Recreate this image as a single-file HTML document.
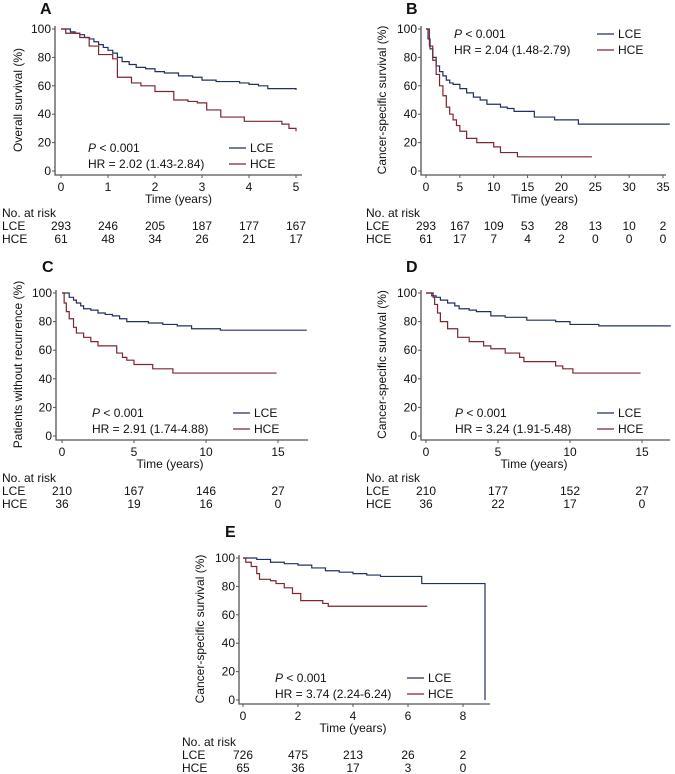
<!DOCTYPE html>
<html><head><meta charset="utf-8"><style>
body{margin:0;background:#fff}
svg{display:block;font-family:"Liberation Sans",Arial,sans-serif}
text{fill:#111}
</style></head><body>
<svg id="fig" width="675" height="774" viewBox="0 0 675 774"></svg>
<script>
// ---- data ----
const aLceT=[0,0.2,0.3,0.4,0.5,0.6,0.7,0.8,0.9,1.0,1.1,1.2,1.3,1.45,1.6,1.8,2,2.2,2.5,2.8,3,3.3,3.5,3.8,4,4.2,4.4,4.6,5];
const aLceS=[100,98,97,96,94,93,91,89,87,85,83,80,77,75,73,72,70,69,67,66,64,63,63,62,61,60,58,58,57];
const aHceT=[0,0.1,0.4,0.6,0.8,1.1,1.2,1.5,1.7,2,2.4,2.7,2.9,3.1,3.4,3.9,4.7,4.85,5];
const aHceS=[100,97,94,88,82,79,66,62,60,56,50,49,48,43,38,35,33,30,28];
const bLceT=[0,0.3,0.6,1,1.5,2,2.5,3,3.5,4,5,6,7,8,9,11,12,13,15,16,19,22.5,36];
const bLceS=[100,93,86,80,74,70,67,64,62,61,58,55,52,50,47,45,44,42,42,38,36,33,33];
const bHceT=[0,0.5,1,1.5,2,2.5,3,3.5,4,4.5,5,6,7.5,10,11,13.5,24.5];
const bHceS=[100,88,78,68,60,53,45,40,36,32,28,23,20,17,13,10,10];
const cLceT=[0,0.5,0.8,1,1.3,1.5,2,2.5,3,3.5,4,4.5,6,7,8,9,11,17];
const cLceS=[100,97,95,93,91,89,88,86,85,84,82,80,79,78,77,75,74,74];
const cHceT=[0,0.15,0.3,0.5,0.8,1,1.5,2,2.5,3.8,4.2,4.5,5,6.3,7.7,14.9];
const cHceS=[100,93,87,82,76,72,69,66,63,58,55,53,50,47,44,44];
const dLceT=[0,0.4,0.7,1,1.5,2,2.3,3,3.5,4.5,5.5,6,7,8,9,10,12,17];
const dLceS=[100,98,97,95,93,91,89,88,87,84,83,83,81,81,80,78,77,77];
const dHceT=[0,0.5,0.6,0.8,1,1.5,2.2,3,4,4.5,5.5,6.5,6.8,9,9.5,10.2,14.9];
const dHceS=[100,97,92,86,80,75,69,66,63,61,58,55,52,49,47,44,44];
const eLceT=[0,0.5,1,1.5,2,2.5,3,3.5,4,4.5,5,6.5,8.8,8.8];
const eLceS=[100,99,97,96,95,93,91,90,89,88,87,82,82,0];
const eHceT=[0,0.1,0.3,0.5,0.6,1,1.2,1.5,1.8,2.1,2.9,3.1,6.7];
const eHceS=[100,97,94,89,85,84,82,79,75,70,68,66,66];
const aTicks=[0,1,2,3,4,5], bTicks=[0,5,10,15,20,25,30,35], cTicks=[0,5,10,15], eTicks=[0,2,4,6,8];
const aRiskL=[293,246,205,187,177,167], aRiskH=[61,48,34,26,21,17];
const bRiskL=[293,167,109,53,28,13,10,2], bRiskH=[61,17,7,4,2,0,0,0];
const cRiskL=[210,167,146,27], cRiskH=[36,19,16,0];
const dRiskL=[210,177,152,27], dRiskH=[36,22,17,0];
const eRiskL=[726,475,213,26,2], eRiskH=[65,36,17,3,0];
const yTicks=[0,20,40,60,80,100];

const NS="http://www.w3.org/2000/svg", svg=document.getElementById('fig');
function mk(tag,at,parent,txt){const e=document.createElementNS(NS,tag);for(const k in at)e.setAttribute(k,at[k]);if(txt!=null)e.textContent=txt;(parent||svg).appendChild(e);return e;}
const LC="#22305e", HC="#7d2530", AX="#555", FS=12;
function panel(p){
  const g=mk('g',{});
  
  
  const sx=t=>p.x0+(t-p.t0)/(p.t1-p.t0)*(p.x1-p.x0);
  const sy=v=>p.y0-(v/100)*(p.y0-p.y100);
  const lbl=mk('text',{x:p.lx,y:p.ly,'font-size':16,'font-weight':'bold'},g,p.id);
  
  const ax=mk('path',{d:`M${p.ax},${p.y100-3}V${p.axY}H${p.axEnd}`,stroke:AX,'stroke-width':1.3,fill:'none'},g);
  
  yTicks.forEach(v=>{const y=sy(v);mk('line',{x1:p.ax-3,x2:p.ax,y1:y,y2:y,stroke:AX},g);
    const t=mk('text',{x:p.ax-4,y:y+4,'font-size':FS,'text-anchor':'end'},g,v);
    });
  p.ticks.forEach(v=>{const x=sx(v);mk('line',{x1:x,x2:x,y1:p.axY,y2:p.axY+3,stroke:AX},g);
    const t=mk('text',{x:x,y:p.axY+16,'font-size':FS,'text-anchor':'middle'},g,v);
    });
  const xt=mk('text',{x:(sx(p.ticks[0])+sx(p.ticks[p.ticks.length-1]))/2,y:p.axY+28,'font-size':FS,'text-anchor':'middle'},g,'Time (years)');
  
  const yc=(p.y0+p.y100)/2;
  const yt=mk('text',{x:0,y:0,'font-size':FS,'text-anchor':'middle',transform:`translate(${p.ytx},${yc}) rotate(-90)`},g,p.ytitle);
  
  [[p.lT,p.lS,LC,'lce'],[p.hT,p.hS,HC,'hce']].forEach(([T,S,c,n])=>{
    let d=`M${sx(T[0])},${sy(S[0])}`;
    for(let i=1;i<T.length;i++){d+=`H${sx(T[i])}V${sy(S[i])}`;}
    const pa=mk('path',{d:d,stroke:c,'stroke-width':1.2,fill:'none'},g);
    
  });
  const pt=mk('text',{x:p.px,y:p.py,'font-size':FS},g);
  mk('tspan',{'font-style':'italic'},pt,'P');mk('tspan',{},pt,' < 0.001');
  
  const hr=mk('text',{x:p.px,y:p.py+16,'font-size':FS},g,p.hr);
  
  [['LCE',LC,0],['HCE',HC,16]].forEach(([n,c,o])=>{
    const lg=mk('g',{},g);
    
    mk('line',{x1:p.gx,x2:p.gx+17,y1:p.py-4+o,y2:p.py-4+o,stroke:c,'stroke-width':1.2},lg);
    mk('text',{x:p.gx+21,y:p.py+o,'font-size':FS},lg,n);
  });
  const rt=p.axY+42;
  const rk=mk('g',{},g);
  mk('text',{x:p.rx,y:rt,'font-size':FS},rk,'No. at risk');
  mk('text',{x:p.rx,y:rt+13,'font-size':FS},rk,'LCE');
  mk('text',{x:p.rx,y:rt+26,'font-size':FS},rk,'HCE');
  p.ticks.forEach((v,i)=>{
    mk('text',{x:sx(v),y:rt+13,'font-size':FS,'text-anchor':'middle'},rk,p.rL[i]);
    mk('text',{x:sx(v),y:rt+26,'font-size':FS,'text-anchor':'middle'},rk,p.rH[i]);
  });
}
panel({id:'A',lx:40,ly:14,ax:55,axY:175,axEnd:302,x0:61,x1:296,t0:0,t1:5,y0:171,y100:29,ticks:aTicks,
  ytx:22,ytitle:'Overall survival (%)',lT:aLceT,lS:aLceS,hT:aHceT,hS:aHceS,px:88,py:152,hr:'HR = 2.02 (1.43-2.84)',gx:229,rx:2,rL:aRiskL,rH:aRiskH});
panel({id:'B',lx:406,ly:14,ax:421,axY:175,axEnd:666,x0:426,x1:663,t0:0,t1:35,y0:171,y100:29,ticks:bTicks,
  ytx:386,ytitle:'Cancer-specific survival (%)',lT:bLceT,lS:bLceS,hT:bHceT,hS:bHceS,px:454,py:38,hr:'HR = 2.04 (1.48-2.79)',gx:597,rx:366,rL:bRiskL,rH:bRiskH});
panel({id:'C',lx:42,ly:272,ax:56,axY:440,axEnd:308,x0:62,x1:278,t0:0,t1:15,y0:436,y100:293,ticks:cTicks,
  ytx:22,ytitle:'Patients without recurrence (%)',lT:cLceT,lS:cLceS,hT:cHceT,hS:cHceS,px:92,py:417,hr:'HR = 2.91 (1.74-4.88)',gx:233,rx:2,rL:cRiskL,rH:cRiskH});
panel({id:'D',lx:406,ly:272,ax:421,axY:440,axEnd:670,x0:426,x1:642,t0:0,t1:15,y0:436,y100:293,ticks:cTicks,
  ytx:386,ytitle:'Cancer-specific survival (%)',lT:dLceT,lS:dLceS,hT:dHceT,hS:dHceS,px:455,py:417,hr:'HR = 3.24 (1.91-5.48)',gx:597,rx:366,rL:dRiskL,rH:dRiskH});
panel({id:'E',lx:225,ly:537,ax:239,axY:704,axEnd:490,x0:243,x1:463,t0:0,t1:8,y0:700,y100:558,ticks:eTicks,
  ytx:204,ytitle:'Cancer-specific survival (%)',lT:eLceT,lS:eLceS,hT:eHceT,hS:eHceS,px:275,py:682,hr:'HR = 3.74 (2.24-6.24)',gx:407,rx:182,rL:eRiskL,rH:eRiskH});
</script>
</body></html>
